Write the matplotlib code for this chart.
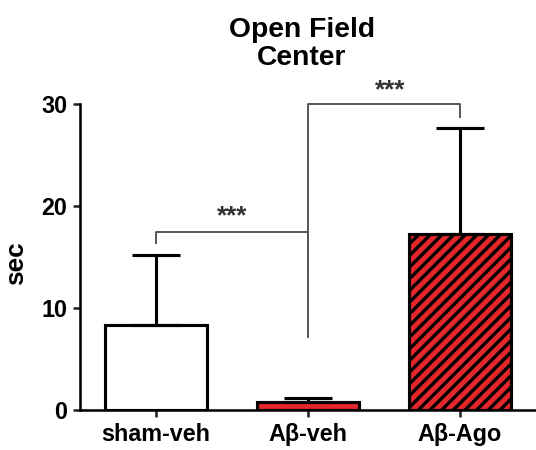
import matplotlib
matplotlib.use('Agg')
import matplotlib.pyplot as plt
import numpy as np

# values
groups = ['sham-veh', 'A\u03b2-veh', 'A\u03b2-Ago']
means = [8.3, 0.8, 17.3]
err_up = [6.9, 0.4, 10.4]
fills = ['white', '#e3262b', '#e3262b']
hatches = ['', '', '////']

# significance brackets: (x0, x1, left foot, top, right foot)
brackets = [(0, 1, 16.4, 17.5, 14.1), (1, 2, 7.2, 30.05, 28.75)]
star_pos = [(0.5, 19.0), (1.54, 31.4)]

DPI = 140
plt.rcParams['font.family'] = 'Liberation Sans'
plt.rcParams['hatch.linewidth'] = 1.7

fig = plt.figure(figsize=(536 / DPI, 450 / DPI), dpi=DPI)
ax = fig.add_axes([80 / 536, 40 / 450, 456 / 536, 305.7 / 450])

x = np.arange(len(groups))
ax.bar(x, means, width=0.67, color=fills, edgecolor='black',
       linewidth=1.6, hatch=hatches, zorder=2)
ax.errorbar(x, means, yerr=[np.zeros(len(means)), err_up], fmt='none',
            ecolor='black', elinewidth=1.6, capsize=12.5, capthick=1.6,
            zorder=3)

for x0, x1, y0, ytop, y1 in brackets:
    ax.plot([x0, x0, x1, x1], [y0, ytop, ytop, y1], color='#555555',
            linewidth=1.0, clip_on=False, zorder=4)
for sx, sy in star_pos:
    ax.text(sx, sy, '***', ha='center', va='center', fontsize=13.5,
            fontweight='bold', color='#333333')

ax.set_xlim(-0.5, 2.5)
ax.set_ylim(0, 30)
ax.set_yticks([0, 10, 20, 30])
ax.set_xticks(x)
ax.set_xticklabels(groups, fontsize=12, fontweight='bold')
for lab in ax.get_yticklabels():
    lab.set_fontsize(12)
    lab.set_fontweight('bold')
ax.tick_params(axis='both', width=1.3, length=3.5, pad=3, color='#222222')
ax.set_ylabel('sec', fontsize=13.5, fontweight='bold')
ax.yaxis.set_label_coords(-0.115, 0.48)

ax.spines['top'].set_visible(False)
ax.spines['right'].set_visible(False)
ax.spines['left'].set_linewidth(1.3)
ax.spines['bottom'].set_linewidth(1.3)

fig.text(302 / 536, 1 - 44 / 450, 'Open Field\nCenter', ha='center',
         va='center', fontsize=14.5, fontweight='bold', linespacing=1.1)

fig.savefig('out.png', dpi=DPI)
